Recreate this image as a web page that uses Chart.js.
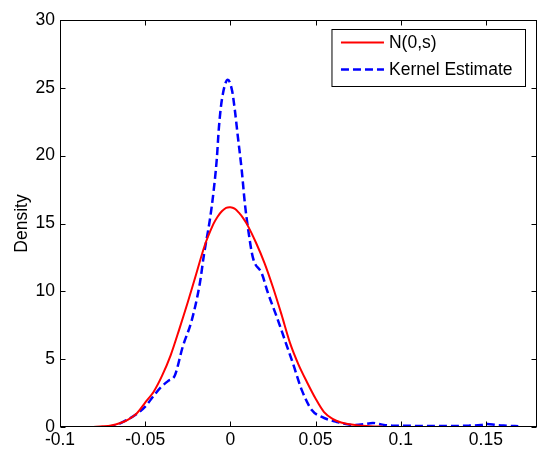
<!DOCTYPE html>
<html>
<head>
<meta charset="utf-8">
<script src="https://cdn.jsdelivr.net/npm/chart.js@4.4.1/dist/chart.umd.min.js"></script>
<style>
body { margin: 0; background: #fff; }
canvas { display: block; }
</style>
</head>
<body>
<canvas id="chart" width="538" height="452"></canvas>
<script>
// values
const normalX = [-0.0805, -0.075, -0.07, -0.065, -0.06, -0.055, -0.05, -0.045, -0.04, -0.035, -0.03, -0.025, -0.02, -0.015, -0.01, -0.0075, -0.005, -0.0025, 0.0, 0.0025, 0.005, 0.0075, 0.01, 0.015, 0.02, 0.025, 0.03, 0.035, 0.04, 0.045, 0.05, 0.055, 0.06, 0.065, 0.07, 0.075, 0.08, 0.085, 0.0895];
const normalY = [0.0, 0.05, 0.12, 0.28, 0.55, 1.0, 1.8, 2.6, 3.8, 5.3, 7.2, 9.2, 11.3, 13.4, 14.95, 15.5, 15.9, 16.15, 16.2, 16.1, 15.8, 15.4, 14.9, 13.6, 12.1, 10.3, 8.3, 6.2, 4.6, 3.3, 2.1, 1.1, 0.6, 0.33, 0.2, 0.12, 0.07, 0.04, 0.02];

const kernelX = [-0.072, -0.066, -0.061, -0.055, -0.05, -0.045, -0.041, -0.0365, -0.0326, -0.028, -0.0226, -0.0179, -0.0155, -0.012, -0.01, -0.008, -0.0067, -0.005, -0.0015, 0.001, 0.0026, 0.0044, 0.0067, 0.0085, 0.0103, 0.0132, 0.0185, 0.022, 0.0273, 0.032, 0.0367, 0.042, 0.0478, 0.0537, 0.0625, 0.072, 0.078, 0.0837, 0.088, 0.095, 0.1, 0.11, 0.12, 0.13, 0.14, 0.147, 0.151, 0.156, 0.162, 0.169];
const kernelY = [0.0, 0.2, 0.5, 0.95, 1.5, 2.3, 2.9, 3.4, 3.8, 5.9, 7.9, 10.6, 12.7, 15.3, 17.2, 19.7, 22.1, 24.1, 25.6, 24.8, 23.4, 21.4, 18.9, 16.5, 14.7, 12.5, 11.3, 9.9, 8.1, 6.4, 4.7, 2.7, 1.25, 0.74, 0.37, 0.15, 0.2, 0.3, 0.2, 0.1, 0.1, 0.08, 0.08, 0.08, 0.1, 0.15, 0.22, 0.15, 0.1, 0.05];

const seriesNames = ['N(0,s)', 'Kernel Estimate'];
const xTicks = [-0.1, -0.05, 0, 0.05, 0.1, 0.15];
const yTicks = [0, 5, 10, 15, 20, 25, 30];
const xRange = [-0.1, 0.18];
const yRange = [0, 30];

const toPoints = (xs, ys) => xs.map((x, i) => ({x: x, y: ys[i]}));
const FONT = '"Liberation Sans", Arial, sans-serif';

// box around the axes, inward ticks, legend inside the plot
const matlabAxes = {
    id: 'matlabAxes',
    afterDraw(chart) {
        const {ctx, chartArea: a, scales} = chart;
        const l = Math.round(a.left) + 0.5, r = Math.round(a.right) - 0.5;
        const t = Math.round(a.top) + 0.5, b = Math.round(a.bottom) - 0.5;
        ctx.save();
        ctx.strokeStyle = '#000';
        ctx.lineWidth = 1;
        ctx.strokeRect(l, t, r - l, b - t);

        ctx.beginPath();
        scales.x.ticks.forEach(tk => {
            const px = Math.round(scales.x.getPixelForValue(tk.value)) + 0.5;
            ctx.moveTo(px, b); ctx.lineTo(px, b - 5);
            ctx.moveTo(px, t); ctx.lineTo(px, t + 5);
        });
        scales.y.ticks.forEach(tk => {
            const py = Math.round(scales.y.getPixelForValue(tk.value)) + 0.5;
            ctx.moveTo(l, py); ctx.lineTo(l + 5, py);
            ctx.moveTo(r, py); ctx.lineTo(r - 5, py);
        });
        ctx.stroke();

        // legend
        ctx.font = '17.5px ' + FONT;
        const sets = chart.data.datasets;
        const textW = Math.max(...sets.map(d => ctx.measureText(d.label).width));
        const boxW = 9 + 43 + 5 + textW + 13;
        const boxR = Math.round(a.right) - 11.5;
        const boxL = boxR - boxW;
        const boxT = Math.round(a.top) + 9.5;
        const boxH = 57;
        ctx.fillStyle = '#fff';
        ctx.fillRect(boxL, boxT, boxW, boxH);
        ctx.strokeRect(boxL, boxT, boxW, boxH);
        sets.forEach((d, i) => {
            const y = boxT + 13 + i * 27;
            ctx.save();
            ctx.strokeStyle = d.borderColor;
            ctx.lineWidth = d.borderWidth;
            ctx.setLineDash(d.borderDash || []);
            ctx.beginPath();
            ctx.moveTo(boxL + 9, y);
            ctx.lineTo(boxL + 52, y);
            ctx.stroke();
            ctx.restore();
            ctx.fillStyle = '#000';
            ctx.textBaseline = 'middle';
            ctx.textAlign = 'left';
            ctx.fillText(d.label, boxL + 57, y + 1);
        });
        ctx.restore();
    }
};

const canvas = document.getElementById('chart');
new Chart(canvas.getContext('2d'), {
    type: 'line',
    data: {
        datasets: [{
            label: seriesNames[0],
            data: toPoints(normalX, normalY),
            borderColor: '#ff0000',
            borderWidth: 2,
            pointRadius: 0,
            tension: 0.3,
            fill: false
        }, {
            label: seriesNames[1],
            data: toPoints(kernelX, kernelY),
            borderColor: '#0000ff',
            borderWidth: 2.5,
            borderDash: [8, 4],
            pointRadius: 0,
            cubicInterpolationMode: 'monotone',
            fill: false
        }]
    },
    options: {
        responsive: false,
        animation: false,
        devicePixelRatio: 1,
        layout: {padding: {top: 20, right: 1, left: 0, bottom: 0}},
        plugins: {
            legend: {display: false},
            tooltip: {enabled: false}
        },
        scales: {
            x: {
                type: 'linear',
                min: xRange[0],
                max: xRange[1],
                afterBuildTicks: axis => { axis.ticks = xTicks.map(v => ({value: v})); },
                afterFit: axis => { axis.height = 25; },
                grid: {display: false, drawTicks: false},
                border: {display: false},
                ticks: {
                    padding: 3,
                    color: '#000',
                    font: {family: FONT, size: 17.5},
                    maxRotation: 0,
                    callback: v => String(v)
                }
            },
            y: {
                type: 'linear',
                min: yRange[0],
                max: yRange[1],
                afterBuildTicks: axis => { axis.ticks = yTicks.map(v => ({value: v})); },
                afterFit: axis => { axis.width = 60; },
                grid: {display: false, drawTicks: false},
                border: {display: false},
                title: {
                    display: true,
                    text: 'Density',
                    color: '#000',
                    font: {family: FONT, size: 17.5},
                    padding: {top: 12, bottom: 0}
                },
                ticks: {
                    padding: 5,
                    color: '#000',
                    font: {family: FONT, size: 17.5}
                }
            }
        }
    },
    plugins: [matlabAxes]
});
</script>
</body>
</html>
